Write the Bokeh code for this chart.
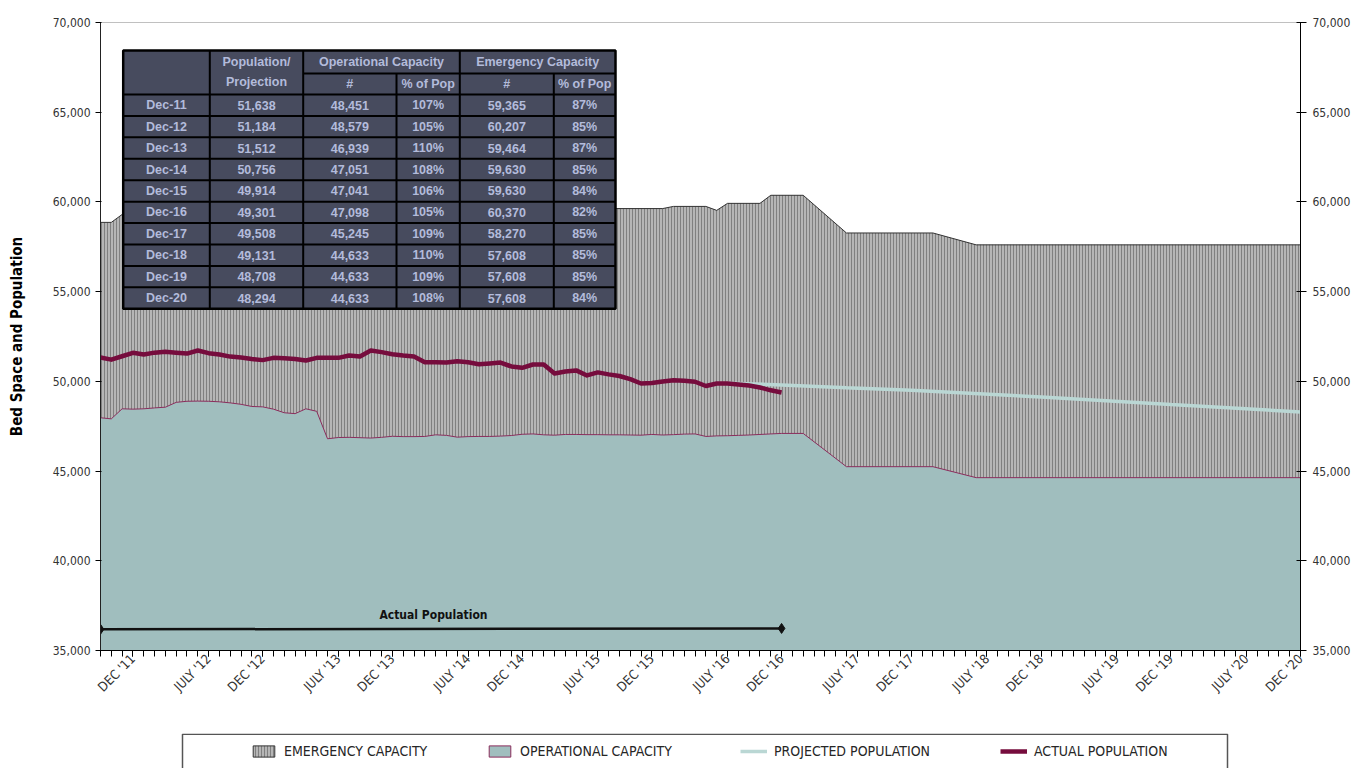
import math
from bokeh.plotting import figure
from bokeh.layouts import column
from bokeh.models import (Range1d, LinearAxis, FixedTicker, NumeralTickFormatter,
                          Legend, LegendItem, ColumnDataSource)
from bokeh.core.properties import value
from bokeh.embed import file_html
from bokeh.resources import INLINE

# ---------------- data ----------------
# x values are months counted from December 2011 (= 0); axis runs Sep 2011 .. Dec 2020
tick_months = [0, 7, 12, 19, 24, 31, 36, 43, 48, 55, 60, 67, 72, 79, 84, 91, 96, 103, 108]
tick_labels = ["DEC '11", "JULY '12", "DEC '12", "JULY '13", "DEC '13", "JULY '14", "DEC '14",
               "JULY '15", "DEC '15", "JULY '16", "DEC '16", "JULY '17", "DEC '17", "JULY '18",
               "DEC '18", "JULY '19", "DEC '19", "JULY '20", "DEC '20"]
month_ticks = list(range(-3, 109))
y_ticks = [35000, 40000, 45000, 50000, 55000, 60000, 65000, 70000]

actual_months = list(range(-3, 61))
actual_pop = [51330, 51210, 51400, 51590, 51500, 51600, 51650, 51600, 51550, 51720,
              51570, 51500, 51380, 51330, 51250, 51184, 51310, 51290, 51250, 51160,
              51310, 51310, 51310, 51440, 51390, 51720, 51630, 51512, 51440, 51390,
              51070, 51060, 51050, 51120, 51060, 50950, 51000, 51050, 50830, 50756,
              50940, 50940, 50440, 50550, 50610, 50330, 50500, 50390, 50300, 50120,
              49880, 49914, 49990, 50060, 50030, 49980, 49740, 49880, 49880, 49830,
              49770, 49660, 49500, 49380]

op_months = list(range(-3, 61)) + [62, 66, 74, 78, 108]
op_cap = [47970, 47910, 48470, 48451, 48470, 48520, 48560, 48830, 48890, 48900,
          48890, 48860, 48800, 48720, 48600, 48579, 48450, 48250, 48200, 48470,
          48330, 46800, 46870, 46880, 46860, 46840, 46880, 46939, 46920, 46920,
          46930, 47020, 46990, 46890, 46920, 46930, 46930, 46950, 46980, 47051,
          47070, 47020, 47000, 47040, 47040, 47030, 47030, 47020, 47020, 47010,
          47000, 47041, 47010, 47030, 47060, 47070, 46930, 46960, 46970, 46990,
          47010, 47040, 47070, 47098,
          47098, 45245, 45245, 44633, 44633]

em_months = [-3, -2, -1, 0, 6, 7, 18, 19, 30, 31, 49, 50, 53, 54, 55, 58, 59, 62, 66, 74, 78, 108]
em_cap = [58860, 58860, 59300, 59365, 59365, 60207, 60207, 59464, 59464, 59630, 59630,
          59750, 59750, 59530, 59920, 59920, 60370, 60370, 58270, 58270, 57608, 57608]

proj_months = [55, 60, 66, 72, 84, 96, 108]
proj_pop = [49900, 49800, 49640, 49508, 49131, 48708, 48294]

table_rows = ["Dec-11", "Dec-12", "Dec-13", "Dec-14", "Dec-15",
              "Dec-16", "Dec-17", "Dec-18", "Dec-19", "Dec-20"]
table_population = [51638, 51184, 51512, 50756, 49914, 49301, 49508, 49131, 48708, 48294]
table_op_num = [48451, 48579, 46939, 47051, 47041, 47098, 45245, 44633, 44633, 44633]
table_op_pct = [107, 105, 110, 108, 106, 105, 109, 110, 109, 108]
table_em_num = [59365, 60207, 59464, 59630, 59630, 60370, 58270, 57608, 57608, 57608]
table_em_pct = [87, 85, 87, 85, 84, 82, 85, 85, 85, 84]

legend_labels = ["EMERGENCY CAPACITY", "OPERATIONAL CAPACITY",
                 "PROJECTED POPULATION", "ACTUAL POPULATION"]

# ---------------- layout / style ----------------
X0, X1 = -3, 108
Y0, Y1 = 35000, 70000
W = 1353
H_MAIN, H_LEG = 733, 35
BORDER_L, BORDER_R = 100, 53
FRAME_W, FRAME_H = 1200, 628
COND = "DejaVu Sans Condensed, Roboto Condensed, Liberation Sans Narrow, Roboto, sans-serif"
ARIAL = "Liberation Sans"

EM_STYLE = dict(fill_color="#b6b6b6", hatch_pattern="vertical_line", hatch_color="#808080",
                hatch_scale=3, hatch_weight=1, line_color="#333333", line_width=1)
OP_STYLE = dict(fill_color="#a0bebe", line_color="#8b2d5c", line_width=1)
PROJ_STYLE = dict(line_color="#bad7d4", line_width=3.5)
ACT_STYLE = dict(line_color="#760c3d", line_width=4.5)


def fx(px):  # frame pixel (from left) -> data x
    return X0 + px / FRAME_W * (X1 - X0)


def fy(py):  # frame pixel (from top) -> data y
    return Y1 - py / FRAME_H * (Y1 - Y0)


p = figure(width=W, height=H_MAIN, output_backend="svg", toolbar_location=None,
           x_range=Range1d(X0, X1), y_range=Range1d(Y0, Y1),
           min_border_left=BORDER_L, min_border_right=BORDER_R, min_border_top=22,
           min_border_bottom=83, background_fill_color="white", border_fill_color="white")
p.grid.visible = False
p.outline_line_color = "#c0c0c0"

p.patch(em_months + [em_months[-1], em_months[0]], em_cap + [Y0, Y0], **EM_STYLE)
p.patch(op_months + [op_months[-1], op_months[0]], op_cap + [Y0, Y0], **OP_STYLE)
p.line(proj_months, proj_pop, **PROJ_STYLE)
p.line(actual_months, actual_pop, line_join="round", **ACT_STYLE)

# "Actual Population" span annotation
span_x = [actual_months[0], actual_months[-1]]
span_y = [36180, 36230]
p.line(span_x, span_y, line_color="#111111", line_width=2.5)
p.scatter(span_x, span_y, marker="diamond", size=10, color="#111111")
p.text(x=[(span_x[0] + span_x[1]) / 2 - 0.7], y=[37000], text=["Actual Population"],
       text_font=value(COND), text_font_style="bold", text_font_size="12px",
       text_color="#111111", text_align="center", text_baseline="middle")

# ---------------- table ----------------
col_px = [22.7, 109.3, 202.7, 296, 359.3, 453.3, 515]
hdr_px = [28, 51, 72]
row_h = 21.43
bottom_px = hdr_px[2] + row_h * len(table_rows)
TBL_BG, TBL_TXT = "#474b5e", "#b3bbdb"

p.quad(left=[fx(col_px[0])], right=[fx(col_px[-1])], top=[fy(hdr_px[0])], bottom=[fy(bottom_px)],
       fill_color=TBL_BG, line_color="black", line_width=2.5)
seg = dict(x0=[], y0=[], x1=[], y1=[])
for c in (col_px[1], col_px[2], col_px[4]):
    seg["x0"].append(fx(c)); seg["x1"].append(fx(c))
    seg["y0"].append(fy(hdr_px[0])); seg["y1"].append(fy(bottom_px))
for c in (col_px[3], col_px[5]):
    seg["x0"].append(fx(c)); seg["x1"].append(fx(c))
    seg["y0"].append(fy(hdr_px[1])); seg["y1"].append(fy(bottom_px))
seg["x0"].append(fx(col_px[2])); seg["x1"].append(fx(col_px[-1]))
seg["y0"].append(fy(hdr_px[1])); seg["y1"].append(fy(hdr_px[1]))
for i in range(len(table_rows)):
    yy = fy(hdr_px[2] + i * row_h)
    seg["x0"].append(fx(col_px[0])); seg["x1"].append(fx(col_px[-1]))
    seg["y0"].append(yy); seg["y1"].append(yy)
p.segment(source=ColumnDataSource(seg), x0="x0", y0="y0", x1="x1", y1="y1",
          line_color="black", line_width=2)


def cx(i):
    return fx((col_px[i] + col_px[i + 1]) / 2)


hdr = dict(x=[cx(1), cx(1), fx((col_px[2] + col_px[4]) / 2), cx(2), cx(3),
              fx((col_px[4] + col_px[6]) / 2), cx(4), cx(5)],
           y=[fy(39), fy(59), fy(39.5), fy(61.5), fy(61.5), fy(39.5), fy(61.5), fy(61.5)],
           text=["Population/", "Projection", "Operational Capacity", "#", "% of Pop",
                 "Emergency Capacity", "#", "% of Pop"])
cells = dict(x=[], y=[], text=[])
for i, lab in enumerate(table_rows):
    yy = fy(hdr_px[2] + (i + 0.5) * row_h)
    vals = [lab, f"{table_population[i]:,}", f"{table_op_num[i]:,}", f"{table_op_pct[i]}%",
            f"{table_em_num[i]:,}", f"{table_em_pct[i]}%"]
    for j, v in enumerate(vals):
        cells["x"].append(cx(j)); cells["y"].append(yy); cells["text"].append(v)
for src in (hdr, cells):
    p.text(source=ColumnDataSource(src), x="x", y="y", text="text",
           text_font=value(ARIAL), text_font_style="bold", text_font_size="12.5px",
           text_color=TBL_TXT, text_align="center", text_baseline="middle")

# ---------------- axes ----------------
xa = p.xaxis[0]
xa.ticker = FixedTicker(ticks=tick_months, minor_ticks=month_ticks)
xa.major_label_overrides = {m: l for m, l in zip(tick_months, tick_labels)}
xa.major_label_orientation = math.pi / 4
xa.major_tick_out = 6
xa.major_tick_in = 0
xa.minor_tick_out = 6
xa.minor_tick_in = 0
xa.axis_line_color = "black"
xa.major_tick_line_color = "black"
xa.minor_tick_line_color = "black"
xa.major_label_text_font = COND
xa.major_label_text_font_size = "13px"
xa.major_label_text_color = "#333333"
xa.major_label_standoff = 0

ya = p.yaxis[0]
ya.ticker = FixedTicker(ticks=y_ticks)
ya.formatter = NumeralTickFormatter(format="0,0")
ya.major_tick_out = 5
ya.major_tick_in = 1
ya.minor_tick_line_color = None
ya.axis_line_color = "#222222"
ya.major_label_text_font = COND
ya.major_label_text_font_size = "12px"
ya.major_label_text_color = "#333333"
ya.major_label_standoff = 5
ya.axis_label = "Bed Space and Population"
ya.axis_label_text_font = COND
ya.axis_label_text_font_style = "bold"
ya.axis_label_text_font_size = "15px"
ya.axis_label_text_color = "black"
ya.axis_label_standoff = 24

yr = LinearAxis(ticker=FixedTicker(ticks=y_ticks), formatter=NumeralTickFormatter(format="0,0"))
yr.major_tick_out = 6
yr.major_tick_in = 4
yr.minor_tick_line_color = None
yr.axis_line_color = "black"
yr.major_label_text_font = COND
yr.major_label_text_font_size = "12px"
yr.major_label_text_color = "#333333"
yr.major_label_standoff = 6
p.add_layout(yr, "right")

# ---------------- legend strip (screen-pixel x coordinates) ----------------
p2 = figure(width=W, height=H_LEG, output_backend="svg", toolbar_location=None,
            x_range=Range1d(BORDER_L, W - BORDER_R), y_range=Range1d(H_LEG, 0),
            x_axis_type=None, y_axis_type=None,
            min_border_left=BORDER_L, min_border_right=BORDER_R,
            min_border_top=0, min_border_bottom=0,
            background_fill_color="white", border_fill_color="white")
p2.outline_line_color = None
p2.grid.visible = False
p2.quad(left=[182], right=[1227], top=[0.75], bottom=[H_LEG + 20],
        fill_color=None, line_color="#555555", line_width=1.5)
# legend-only renderers (kept outside the visible x range)
leg_renderers = [p2.patch(x=[0, 10, 10], y=[0, 0, 10], **EM_STYLE),
                 p2.patch(x=[0, 10, 10], y=[0, 0, 10], **OP_STYLE),
                 p2.line(x=[0, 10], y=[5, 5], **PROJ_STYLE),
                 p2.line(x=[0, 10], y=[5, 5], **ACT_STYLE)]
leg_x = [250, 486, 740, 1000]
for lab, r, lx in zip(legend_labels, leg_renderers, leg_x):
    lg = Legend(items=[LegendItem(label=lab, renderers=[r])], location=(lx - 9 - BORDER_L, 0),
                orientation="horizontal", padding=9, glyph_width=27, glyph_height=14,
                label_standoff=7, label_text_font=COND, label_text_font_size="14px",
                label_text_color="#262626", border_line_alpha=0, background_fill_alpha=0)
    p2.add_layout(lg)

layout = column(p, p2, spacing=0)
open("out.html", "w").write(file_html(layout, INLINE))
